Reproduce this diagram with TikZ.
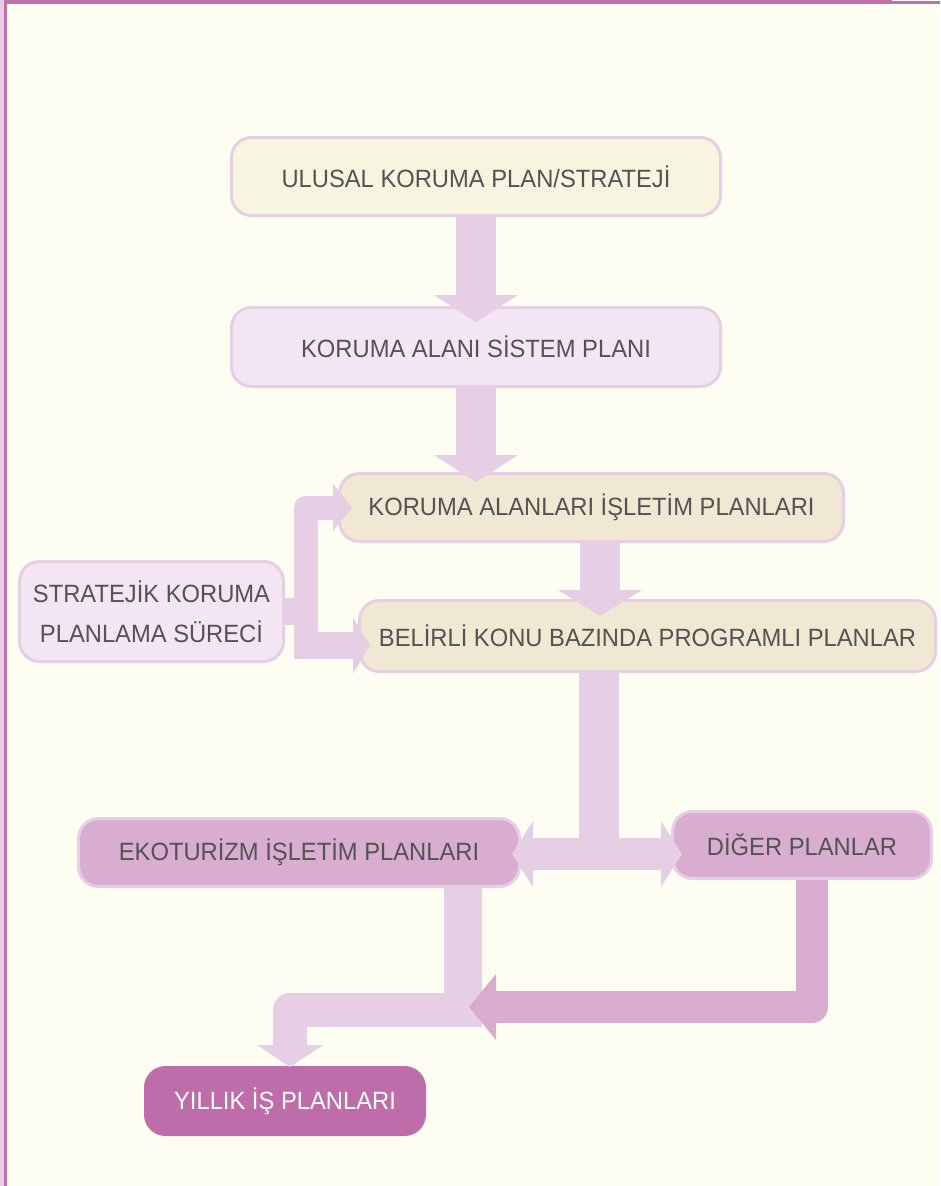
\documentclass[tikz,border=0pt]{standalone}
\usepackage{fontspec}
\setmainfont{Liberation Sans}[FakeStretch=0.95]
\usetikzlibrary{arrows.meta,calc}
\definecolor{bgc}{HTML}{FEFDF1}
\definecolor{framec}{HTML}{C26FAC}
\definecolor{framel}{HTML}{E8CDE4}
\definecolor{edgec}{HTML}{E6CEE4}
\definecolor{flowc}{HTML}{E6CEE4}
\definecolor{flowd}{HTML}{D9ACCF}
\definecolor{yelc}{HTML}{F7F4DF}
\definecolor{pinkc}{HTML}{F3E5F1}
\definecolor{beigec}{HTML}{F0E8D2}
\definecolor{midc}{HTML}{D9ADCF}
\definecolor{darkc}{HTML}{BE6DAA}
\definecolor{txtc}{HTML}{535353}

\begin{document}
\begin{tikzpicture}[x=1pt,y=-1pt,
    box/.style={draw=edgec, line width=3pt, rounded corners=20pt, inner sep=0pt,
        text=txtc, font=\fontsize{25}{40}\selectfont, align=center},
    flow/.style={draw=flowc, line join=round},
    flowdark/.style={draw=flowd, line join=round}]
    	% page and frame
    	\fill[bgc] (0,0) rectangle (940,1186);
    	\fill[framel] (0,0) rectangle (4,1186);
    	\fill[framec] (4,0) rectangle (6.5,1186);
    	\fill[framec] (4,0) rectangle (940,3.5);
    	\fill[white] (892,0) rectangle (940,1.2);
    	% boxes
    	\node[box, fill=yelc, minimum width=489pt, minimum height=78pt] (0) at (476,176.5) {ULUSAL KORUMA PLAN/STRATEJİ};
    	\node[box, fill=pinkc, minimum width=489pt, minimum height=79pt] (1) at (476,347) {KORUMA ALANI SİSTEM PLANI};
    	\node[box, fill=beigec, minimum width=504pt, minimum height=68pt] (2) at (591.5,507.5) {KORUMA ALANLARI İŞLETİM PLANLARI};
    	\node[box, fill=beigec, minimum width=576pt, minimum height=71pt] (3) at (647.5,636) {BELİRLİ KONU BAZINDA PROGRAMLI PLANLAR};
    	\node[box, fill=pinkc, minimum width=264pt, minimum height=100pt] (4) at (151.5,611.5) {STRATEJİK KORUMA\\PLANLAMA SÜRECİ};
    	\node[box, fill=midc, minimum width=441pt, minimum height=68pt] (5) at (299,852.5) {EKOTURİZM İŞLETİM PLANLARI};
    	\node[box, fill=midc, minimum width=259pt, minimum height=67pt] (6) at (802,845) {DİĞER PLANLAR};
    	\node[box, draw=darkc, fill=darkc, text=white, minimum width=279pt, minimum height=67pt] (7) at (285,1101) {YILLIK İŞ PLANLARI};
    	% arrows
    	\draw[flow, line width=40pt, -{Triangle[width=84pt,length=27pt,line width=0pt]}] (0.south) -- ([yshift=-16pt]1.north);
    	\draw[flow, line width=40pt, -{Triangle[width=84pt,length=27pt,line width=0pt]}] (1.south) -- ($(1.south |- 2.north)+(0,10)$);
    	\draw[flow, line width=40pt, -{Triangle[width=84pt,length=26pt,line width=0pt]}] ($(2.south)+(8.5,0)$) -- ($(2.south |- 3.north)+(8.5,17)$);
    	\coordinate (s) at ($(4.east)+(21,0)$);
    	\draw[flow, line width=27pt] (4.east) -- (s);
    	\draw[flow, line width=24pt, -{Triangle[width=47pt,length=19pt,line width=0pt]}] ([yshift=-47pt]s) -- (s |- 2.west) -- ([xshift=14pt]2.west);
    	\draw[flow, line width=27pt, -{Triangle[width=56pt,length=17pt,line width=0pt]}] ([xshift=-12pt,yshift=-34pt]s) -- ([xshift=12pt,yshift=-9.5pt]3.west);
    	\coordinate (t) at (599,854);
    	\draw[flow, line width=40pt] (t |- 3.south) -- (t);
    	\draw[flow, line width=32pt, {Triangle[width=66pt,length=21pt,line width=0pt]}-{Triangle[width=66pt,length=21pt,line width=0pt]}] ($(5.east)+(-9,1.5)$) -- ($(6.west)+(11,9)$);
    	\coordinate (e) at ($(5.south)+(164,122)$);
    	\draw[flow, line width=38pt] ($(5.south)+(164,0)$) -- ([yshift=-17pt]e);
    	\draw[flow, line width=34pt, -{Triangle[width=66pt,length=22pt,line width=0pt]}] ([xshift=17pt]e) -| ($(7.north)+(5,1)$);
    	\draw[flowdark, line width=32pt, -{Triangle[width=66pt,length=27pt,line width=0pt]}] ($(6.south)+(10,0)$) -- ++(0,127) -- ++(-343,0);
\end{tikzpicture}
\end{document}
